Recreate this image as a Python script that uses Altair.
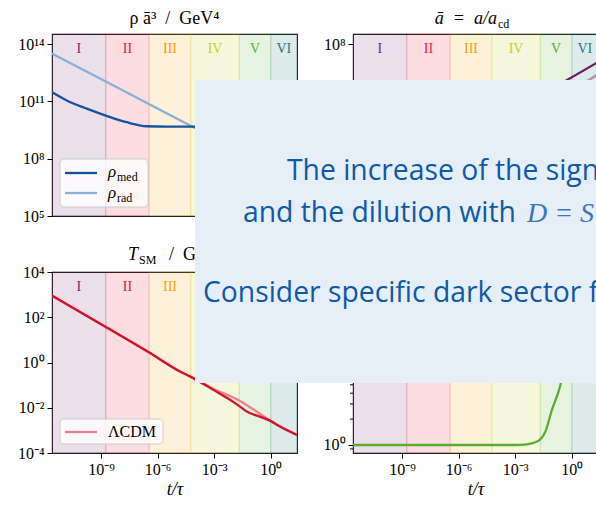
import altair as alt
import numpy as np
import pandas as pd

# ---------------- data (log10 values) ----------------
# time axis log10(t/τ)
t_range_log = [-11.6, 1.39]

# epochs I..VI
band_edges_log = [-11.6, -8.75, -6.45, -4.24, -1.67, 0.0, 1.39]
band_names = ["I", "II", "III", "IV", "V", "VI"]
band_colors = ["#7a2a73", "#e31a3c", "#f5a300", "#c5d11c", "#5aae35", "#1b7b79"]

# ρ ā³ / GeV⁴
rho_med_logt = [-11.61, -10.82, -9.76, -8.75, -7.64, -6.58, -5.5, -4.0]
rho_med_log = [11.49, 11.05, 10.62, 10.26, 9.91, 9.70, 9.68, 9.68]
rho_rad_logt = [-11.61, -8.75, -4.0]
rho_rad_log = [13.51, 12.04, 9.59]

# ā = a / a_cd
abar_logt = [-0.5, -0.16, 1.39]
abar_log = [5.97, 6.16, 7.05]
abar_lcdm_logt = [0.5, 1.0, 1.39]
abar_lcdm_log = [5.91, 6.16, 6.42]

# T_SM / GeV
T_logt = [-11.61, -8.79, -6.49, -4.81, -4.11, -3.05, -2.16, -1.63, -1.27, -0.58, -0.05, 0.49, 1.39]
T_log = [2.96, 1.59, 0.46, -0.40, -0.69, -1.21, -1.65, -1.95, -2.17, -2.39, -2.57, -2.83, -3.20]
T_lcdm_logt = [-11.61, -8.79, -6.49, -4.81, -4.11, -3.05, -1.63, -0.58, -0.05, 0.49, 1.39]
T_lcdm_log = [2.96, 1.59, 0.46, -0.40, -0.69, -1.16, -1.70, -2.26, -2.55, -2.83, -3.20]

# entropy ratio S
S_logt = [-11.6, -3.0, -2.5, -2.12, -1.75, -1.40, -1.05, -0.60, -0.45]
S_log = [0.0, 0.0, 0.005, 0.02, 0.05, 0.155, 0.41, 0.70, 0.85]

# axis ranges and tick exponents
rho_range_log = [5.0, 14.53]
abar_range_log = [-1.05, 8.53]
T_range_log = [-4.0, 4.0]
S_range_log = [-0.093, 2.01]
x_tick_exp = [-9, -6, -3, 0]
rho_tick_exp = [5, 8, 11, 14]
abar_tick_exp = [8]
T_tick_exp = [-4, -2, 0, 2, 4]
S_tick_exp = [0]
S_minor = [0.9, 2, 3, 4, 5, 6, 7, 8, 9]

# ---------------- layout / style ----------------
W, H_TOP, H_BOT, GAP = 245, 182, 181, 56
SERIF = "Liberation Serif"
SANS = "Open Sans"
BLUE_D, BLUE_L = "#12539d", "#8ab0da"
RED, PINK = "#d2142a", "#e8828f"
PURPLE_D, PURPLE_L = "#6b1d5f", "#b98ab2"
GREEN = "#5aae2e"
NOTE_FILL, NOTE_TEXT, NOTE_MATH = "#e6eef8", "#0d5aa7", "#3a78bd"
TICK_FS, TITLE_FS, SUB_FS = 16, 18, 12
SP = "\u2002"  # en space (SVG would collapse repeated plain spaces)

SUP = str.maketrans("-0123456789", "⁻⁰¹²³⁴⁵⁶⁷⁸⁹")


def pow_label(e):
    return "10" + str(e).translate(SUP)


def label_expr(exps):
    exps = sorted(exps)
    expr = f"'{pow_label(exps[-1])}'"
    for e in reversed(exps[:-1]):
        expr = f"datum.value < {10 ** (e + 0.5)!r} ? '{pow_label(e)}' : ({expr})"
    return expr


def log_scale(rng):
    return alt.Scale(type="log", domain=[10 ** rng[0], 10 ** rng[1]], nice=False)


def y_axis(exps):
    return alt.Axis(values=[10.0 ** e for e in exps], labelExpr=label_expr(exps), title=None,
                    grid=False, domain=False, tickSize=5, tickColor="black", tickWidth=1,
                    labelFont=SERIF, labelFontSize=TICK_FS, labelColor="black", labelPadding=3)


x_scale = log_scale(t_range_log)
x_axis_bottom = alt.Axis(values=[10.0 ** e for e in x_tick_exp], labelExpr=label_expr(x_tick_exp),
                         title="t/τ", titleFont=SERIF, titleFontSize=18, titleFontStyle="italic",
                         titleFontWeight="normal", titleColor="black", titlePadding=3,
                         grid=False, domain=False, tickSize=5, tickColor="black", tickWidth=1,
                         labelFont=SERIF, labelFontSize=TICK_FS, labelColor="black", labelPadding=3,
                         labelFlush=False, labelOverlap=False)

bands = pd.DataFrame({
    "lo": np.power(10.0, band_edges_log[:-1]),
    "hi": np.power(10.0, band_edges_log[1:]),
    "mid": np.power(10.0, [(a + b) / 2 for a, b in zip(band_edges_log[:-1], band_edges_log[1:])]),
    "name": band_names,
    "color": band_colors,
})
one = pd.DataFrame({"k": [0]})


def series(logt, logv):
    return pd.DataFrame({"t": np.power(10.0, logt), "v": np.power(10.0, logv)})


def band_layers(height, x_axis, n_labels=6):
    rect = alt.Chart(bands).mark_rect(fillOpacity=0.15, strokeOpacity=0.15, strokeWidth=1.2).encode(
        x=alt.X("lo:Q", scale=x_scale, axis=x_axis), x2="hi:Q",
        y=alt.value(0), y2=alt.value(height),
        fill=alt.Fill("color:N", scale=None), stroke=alt.Stroke("color:N", scale=None))
    layers = [rect]
    if n_labels:
        text = alt.Chart(bands.iloc[:n_labels]).mark_text(font=SERIF, fontSize=14, baseline="middle").encode(
            x=alt.X("mid:Q", scale=x_scale, axis=x_axis), y=alt.value(15),
            text="name:N", color=alt.Color("color:N", scale=None))
        layers.append(text)
    return layers


def line(df, color, y_scale, y_ax, x_axis, width=2.3):
    return alt.Chart(df).mark_line(color=color, strokeWidth=width, clip=True, interpolate="monotone").encode(
        x=alt.X("t:Q", scale=x_scale, axis=x_axis),
        y=alt.Y("v:Q", scale=y_scale, axis=y_ax))


def text_at(txt, x, y, size, color="black", font=SERIF, style="normal", align="left"):
    return alt.Chart(one).mark_text(text=txt, font=font, fontSize=size, fontStyle=style, color=color,
                                    align=align, baseline="alphabetic").encode(
        x=alt.value(x), y=alt.value(y))


def legend_box(x, y, w, h):
    return alt.Chart(one).mark_rect(fill="white", fillOpacity=0.8, stroke="#cccccc", strokeWidth=1,
                                    cornerRadius=4).encode(
        x=alt.value(x), x2=alt.value(x + w), y=alt.value(y), y2=alt.value(y + h))


def legend_line(x, y, color):
    return alt.Chart(one).mark_rule(color=color, strokeWidth=2.3).encode(
        x=alt.value(x), x2=alt.value(x + 32), y=alt.value(y))


# ---------------- top left: ρ ā³ ----------------
rho_scale, rho_axis = log_scale(rho_range_log), y_axis(rho_tick_exp)
top_left = alt.layer(
    *band_layers(H_TOP, None),
    line(series(rho_rad_logt, rho_rad_log), BLUE_L, rho_scale, rho_axis, None),
    line(series(rho_med_logt, rho_med_log), BLUE_D, rho_scale, rho_axis, None),
    legend_box(8, 125, 88, 48),
    legend_line(13, 139, BLUE_D),
    legend_line(13, 159, BLUE_L),
    text_at("ρ", 56, 143, 17, style="italic"),
    text_at("med", 65, 147, SUB_FS),
    text_at("ρ", 56, 164, 17, style="italic"),
    text_at("rad", 65, 168, SUB_FS),
    text_at(f"ρ ā³{SP}/{SP}GeV⁴", W / 2, -10, TITLE_FS, align="center"),
).properties(width=W, height=H_TOP)

# ---------------- top right: ā ----------------
abar_scale, abar_axis = log_scale(abar_range_log), y_axis(abar_tick_exp)
top_right = alt.layer(
    *band_layers(H_TOP, None),
    line(series(abar_lcdm_logt, abar_lcdm_log), PURPLE_L, abar_scale, abar_axis, None),
    line(series(abar_logt, abar_log), PURPLE_D, abar_scale, abar_axis, None),
    text_at(f"ā{SP}={SP}a/a", 144, -10, TITLE_FS, style="italic", align="right"),
    text_at("cd", 145, -6, SUB_FS),
).properties(width=W, height=H_TOP)

# ---------------- bottom left: T_SM ----------------
T_scale, T_axis = log_scale(T_range_log), y_axis(T_tick_exp)
bottom_left = alt.layer(
    *band_layers(H_BOT, x_axis_bottom, n_labels=3),
    line(series(T_lcdm_logt, T_lcdm_log), PINK, T_scale, T_axis, x_axis_bottom),
    line(series(T_logt, T_log), RED, T_scale, T_axis, x_axis_bottom),
    legend_box(8, 147, 103, 25),
    legend_line(13, 160, PINK),
    text_at("ΛCDM", 56, 165, 16),
    text_at("T", 86, -12, TITLE_FS, style="italic", align="right"),
    text_at("SM", 87, -8, SUB_FS),
    text_at(f"/{SP}GeV", 117, -12, TITLE_FS),
).properties(width=W, height=H_BOT)

# ---------------- bottom right: S, plus the note panel on top ----------------
S_scale, S_axis = log_scale(S_range_log), y_axis(S_tick_exp)
minor_ticks = alt.Chart(pd.DataFrame({"v": S_minor})).mark_rule(color="black", strokeWidth=1).encode(
    x=alt.value(-3), x2=alt.value(0), y=alt.Y("v:Q", scale=S_scale, axis=S_axis))
note_box = alt.Chart(one).mark_rect(fill=NOTE_FILL).encode(
    x=alt.value(-158), x2=alt.value(300), y=alt.value(-192), y2=alt.value(111))
bottom_right = alt.layer(
    *band_layers(H_BOT, x_axis_bottom, n_labels=0),
    line(series(S_logt, S_log), GREEN, S_scale, S_axis, x_axis_bottom),
    minor_ticks,
    note_box,
    text_at("The increase of the sign", -66, -92, 28.3, color=NOTE_TEXT, font=SANS),
    text_at("and the dilution with", -110, -50, 28.3, color=NOTE_TEXT, font=SANS),
    text_at("D = S", 174, -50, 28, color=NOTE_MATH, style="italic"),
    text_at("Consider specific dark sector f", -150, 30, 28.3, color=NOTE_TEXT, font=SANS),
).properties(width=W, height=H_BOT)

chart = alt.concat(top_left, top_right, bottom_left, bottom_right,
                   columns=2, spacing=GAP, bounds="flush").properties(
    padding={"left": 52, "top": 34, "right": 544, "bottom": 471},
    autosize=alt.AutoSizeParams(type="none"),
).configure_view(stroke="#1a1a1a", strokeWidth=1.1)

chart.save("out.html", embed_options={"renderer": "svg", "actions": False})
